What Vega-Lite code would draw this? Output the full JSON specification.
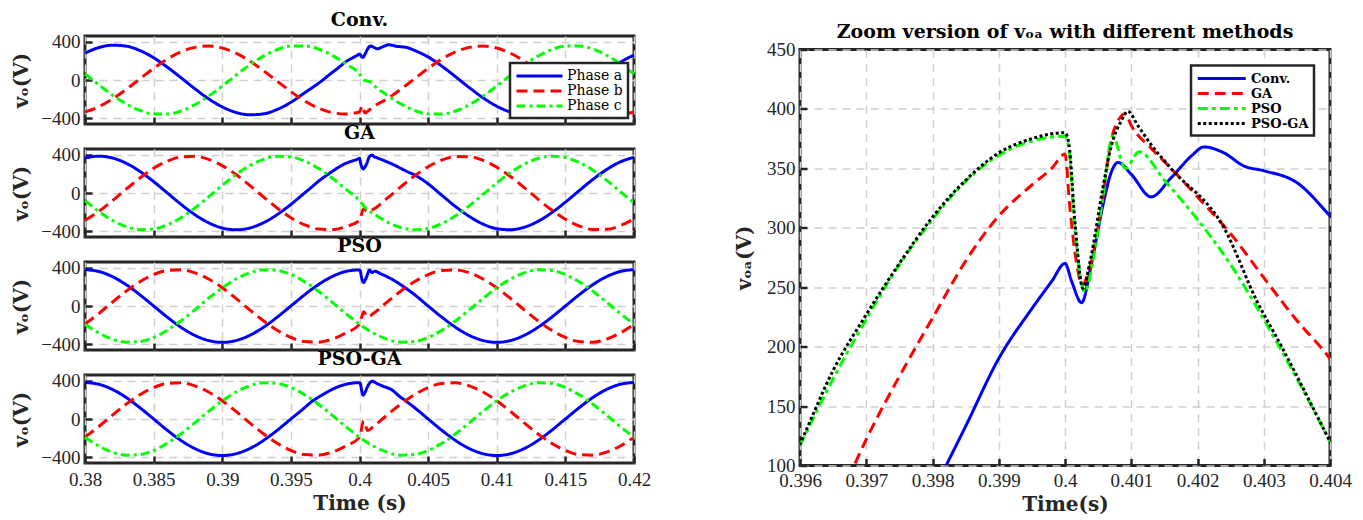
{
  "$schema": "https://vega.github.io/schema/vega-lite/v6.json",
  "padding": {"left": 10, "top": 9, "right": 10, "bottom": 2},
  "background": "white",
  "datasets": {
    "d": [
      {"m":"Conv.","p":"Phase a","t":0.38,"v":281},{"m":"Conv.","p":"Phase a","t":0.381,"v":339},{"m":"Conv.","p":"Phase a","t":0.382,"v":364},{"m":"Conv.","p":"Phase a","t":0.383,"v":354},{"m":"Conv.","p":"Phase a","t":0.384,"v":308},{"m":"Conv.","p":"Phase a","t":0.385,"v":233},{"m":"Conv.","p":"Phase a","t":0.386,"v":134},{"m":"Conv.","p":"Phase a","t":0.387,"v":23},{"m":"Conv.","p":"Phase a","t":0.388,"v":-91},{"m":"Conv.","p":"Phase a","t":0.389,"v":-196},{"m":"Conv.","p":"Phase a","t":0.39,"v":-281},{"m":"Conv.","p":"Phase a","t":0.391,"v":-339},{"m":"Conv.","p":"Phase a","t":0.392,"v":-364},{"m":"Conv.","p":"Phase a","t":0.393,"v":-354},{"m":"Conv.","p":"Phase a","t":0.394,"v":-308},{"m":"Conv.","p":"Phase a","t":0.395,"v":-233},{"m":"Conv.","p":"Phase a","t":0.396,"v":-134},{"m":"Conv.","p":"Phase a","t":0.397,"v":-35},{"m":"Conv.","p":"Phase a","t":0.398,"v":77},{"m":"Conv.","p":"Phase a","t":0.3985,"v":133},{"m":"Conv.","p":"Phase a","t":0.399,"v":190},{"m":"Conv.","p":"Phase a","t":0.3995,"v":232},{"m":"Conv.","p":"Phase a","t":0.3998,"v":255},{"m":"Conv.","p":"Phase a","t":0.4,"v":270},{"m":"Conv.","p":"Phase a","t":0.4001,"v":255},{"m":"Conv.","p":"Phase a","t":0.40025,"v":237},{"m":"Conv.","p":"Phase a","t":0.4004,"v":270},{"m":"Conv.","p":"Phase a","t":0.4006,"v":326},{"m":"Conv.","p":"Phase a","t":0.4007,"v":347},{"m":"Conv.","p":"Phase a","t":0.4008,"v":355},{"m":"Conv.","p":"Phase a","t":0.401,"v":345},{"m":"Conv.","p":"Phase a","t":0.4013,"v":326},{"m":"Conv.","p":"Phase a","t":0.4016,"v":342},{"m":"Conv.","p":"Phase a","t":0.4019,"v":360},{"m":"Conv.","p":"Phase a","t":0.4021,"v":368},{"m":"Conv.","p":"Phase a","t":0.4024,"v":363},{"m":"Conv.","p":"Phase a","t":0.4027,"v":352},{"m":"Conv.","p":"Phase a","t":0.403,"v":348},{"m":"Conv.","p":"Phase a","t":0.4035,"v":338},{"m":"Conv.","p":"Phase a","t":0.404,"v":310},{"m":"Conv.","p":"Phase a","t":0.405,"v":241},{"m":"Conv.","p":"Phase a","t":0.406,"v":145},{"m":"Conv.","p":"Phase a","t":0.407,"v":34},{"m":"Conv.","p":"Phase a","t":0.408,"v":-80},{"m":"Conv.","p":"Phase a","t":0.409,"v":-186},{"m":"Conv.","p":"Phase a","t":0.41,"v":-274},{"m":"Conv.","p":"Phase a","t":0.411,"v":-335},{"m":"Conv.","p":"Phase a","t":0.412,"v":-363},{"m":"Conv.","p":"Phase a","t":0.413,"v":-356},{"m":"Conv.","p":"Phase a","t":0.414,"v":-314},{"m":"Conv.","p":"Phase a","t":0.415,"v":-241},{"m":"Conv.","p":"Phase a","t":0.416,"v":-145},{"m":"Conv.","p":"Phase a","t":0.417,"v":-34},{"m":"Conv.","p":"Phase a","t":0.418,"v":80},{"m":"Conv.","p":"Phase a","t":0.419,"v":186},{"m":"Conv.","p":"Phase a","t":0.42,"v":260},
      {"m":"Conv.","p":"Phase b","t":0.38,"v":-334},{"m":"Conv.","p":"Phase b","t":0.381,"v":-280},{"m":"Conv.","p":"Phase b","t":0.382,"v":-198},{"m":"Conv.","p":"Phase b","t":0.383,"v":-98},{"m":"Conv.","p":"Phase b","t":0.384,"v":12},{"m":"Conv.","p":"Phase b","t":0.385,"v":121},{"m":"Conv.","p":"Phase b","t":0.386,"v":219},{"m":"Conv.","p":"Phase b","t":0.387,"v":294},{"m":"Conv.","p":"Phase b","t":0.388,"v":341},{"m":"Conv.","p":"Phase b","t":0.389,"v":355},{"m":"Conv.","p":"Phase b","t":0.39,"v":334},{"m":"Conv.","p":"Phase b","t":0.391,"v":280},{"m":"Conv.","p":"Phase b","t":0.392,"v":198},{"m":"Conv.","p":"Phase b","t":0.393,"v":98},{"m":"Conv.","p":"Phase b","t":0.394,"v":-12},{"m":"Conv.","p":"Phase b","t":0.395,"v":-121},{"m":"Conv.","p":"Phase b","t":0.396,"v":-219},{"m":"Conv.","p":"Phase b","t":0.397,"v":-294},{"m":"Conv.","p":"Phase b","t":0.398,"v":-341},{"m":"Conv.","p":"Phase b","t":0.399,"v":-355},{"m":"Conv.","p":"Phase b","t":0.4,"v":-334},{"m":"Conv.","p":"Phase b","t":0.4002,"v":-270},{"m":"Conv.","p":"Phase b","t":0.4004,"v":-345},{"m":"Conv.","p":"Phase b","t":0.4007,"v":-315},{"m":"Conv.","p":"Phase b","t":0.401,"v":-280},{"m":"Conv.","p":"Phase b","t":0.402,"v":-198},{"m":"Conv.","p":"Phase b","t":0.403,"v":-98},{"m":"Conv.","p":"Phase b","t":0.404,"v":12},{"m":"Conv.","p":"Phase b","t":0.405,"v":121},{"m":"Conv.","p":"Phase b","t":0.406,"v":219},{"m":"Conv.","p":"Phase b","t":0.407,"v":294},{"m":"Conv.","p":"Phase b","t":0.408,"v":341},{"m":"Conv.","p":"Phase b","t":0.409,"v":355},{"m":"Conv.","p":"Phase b","t":0.41,"v":334},{"m":"Conv.","p":"Phase b","t":0.411,"v":280},{"m":"Conv.","p":"Phase b","t":0.412,"v":198},{"m":"Conv.","p":"Phase b","t":0.413,"v":98},{"m":"Conv.","p":"Phase b","t":0.414,"v":-12},{"m":"Conv.","p":"Phase b","t":0.415,"v":-121},{"m":"Conv.","p":"Phase b","t":0.416,"v":-219},{"m":"Conv.","p":"Phase b","t":0.417,"v":-294},{"m":"Conv.","p":"Phase b","t":0.418,"v":-341},{"m":"Conv.","p":"Phase b","t":0.419,"v":-355},{"m":"Conv.","p":"Phase b","t":0.42,"v":-334},
      {"m":"Conv.","p":"Phase c","t":0.38,"v":63},{"m":"Conv.","p":"Phase c","t":0.381,"v":-50},{"m":"Conv.","p":"Phase c","t":0.382,"v":-158},{"m":"Conv.","p":"Phase c","t":0.383,"v":-250},{"m":"Conv.","p":"Phase c","t":0.384,"v":-318},{"m":"Conv.","p":"Phase c","t":0.385,"v":-355},{"m":"Conv.","p":"Phase c","t":0.386,"v":-356},{"m":"Conv.","p":"Phase c","t":0.387,"v":-324},{"m":"Conv.","p":"Phase c","t":0.388,"v":-259},{"m":"Conv.","p":"Phase c","t":0.389,"v":-169},{"m":"Conv.","p":"Phase c","t":0.39,"v":-63},{"m":"Conv.","p":"Phase c","t":0.391,"v":50},{"m":"Conv.","p":"Phase c","t":0.392,"v":158},{"m":"Conv.","p":"Phase c","t":0.393,"v":250},{"m":"Conv.","p":"Phase c","t":0.394,"v":318},{"m":"Conv.","p":"Phase c","t":0.395,"v":355},{"m":"Conv.","p":"Phase c","t":0.396,"v":356},{"m":"Conv.","p":"Phase c","t":0.397,"v":324},{"m":"Conv.","p":"Phase c","t":0.398,"v":259},{"m":"Conv.","p":"Phase c","t":0.399,"v":169},{"m":"Conv.","p":"Phase c","t":0.4,"v":63},{"m":"Conv.","p":"Phase c","t":0.4003,"v":0},{"m":"Conv.","p":"Phase c","t":0.4006,"v":-12},{"m":"Conv.","p":"Phase c","t":0.4008,"v":-22},{"m":"Conv.","p":"Phase c","t":0.401,"v":-50},{"m":"Conv.","p":"Phase c","t":0.402,"v":-158},{"m":"Conv.","p":"Phase c","t":0.403,"v":-250},{"m":"Conv.","p":"Phase c","t":0.404,"v":-318},{"m":"Conv.","p":"Phase c","t":0.405,"v":-355},{"m":"Conv.","p":"Phase c","t":0.406,"v":-356},{"m":"Conv.","p":"Phase c","t":0.407,"v":-324},{"m":"Conv.","p":"Phase c","t":0.408,"v":-259},{"m":"Conv.","p":"Phase c","t":0.409,"v":-169},{"m":"Conv.","p":"Phase c","t":0.41,"v":-63},{"m":"Conv.","p":"Phase c","t":0.411,"v":50},{"m":"Conv.","p":"Phase c","t":0.412,"v":158},{"m":"Conv.","p":"Phase c","t":0.413,"v":250},{"m":"Conv.","p":"Phase c","t":0.414,"v":318},{"m":"Conv.","p":"Phase c","t":0.415,"v":355},{"m":"Conv.","p":"Phase c","t":0.416,"v":356},{"m":"Conv.","p":"Phase c","t":0.417,"v":324},{"m":"Conv.","p":"Phase c","t":0.418,"v":259},{"m":"Conv.","p":"Phase c","t":0.419,"v":169},{"m":"Conv.","p":"Phase c","t":0.42,"v":63},
      {"m":"GA","p":"Phase a","t":0.38,"v":366},{"m":"GA","p":"Phase a","t":0.381,"v":385},{"m":"GA","p":"Phase a","t":0.382,"v":366},{"m":"GA","p":"Phase a","t":0.383,"v":311},{"m":"GA","p":"Phase a","t":0.384,"v":226},{"m":"GA","p":"Phase a","t":0.385,"v":119},{"m":"GA","p":"Phase a","t":0.386,"v":0},{"m":"GA","p":"Phase a","t":0.387,"v":-119},{"m":"GA","p":"Phase a","t":0.388,"v":-226},{"m":"GA","p":"Phase a","t":0.389,"v":-311},{"m":"GA","p":"Phase a","t":0.39,"v":-366},{"m":"GA","p":"Phase a","t":0.391,"v":-385},{"m":"GA","p":"Phase a","t":0.392,"v":-366},{"m":"GA","p":"Phase a","t":0.393,"v":-311},{"m":"GA","p":"Phase a","t":0.394,"v":-226},{"m":"GA","p":"Phase a","t":0.395,"v":-119},{"m":"GA","p":"Phase a","t":0.396,"v":0},{"m":"GA","p":"Phase a","t":0.3965,"v":60},{"m":"GA","p":"Phase a","t":0.397,"v":122},{"m":"GA","p":"Phase a","t":0.3975,"v":175},{"m":"GA","p":"Phase a","t":0.398,"v":224},{"m":"GA","p":"Phase a","t":0.3985,"v":272},{"m":"GA","p":"Phase a","t":0.399,"v":310},{"m":"GA","p":"Phase a","t":0.3995,"v":336},{"m":"GA","p":"Phase a","t":0.3998,"v":350},{"m":"GA","p":"Phase a","t":0.4,"v":362},{"m":"GA","p":"Phase a","t":0.40007,"v":319},{"m":"GA","p":"Phase a","t":0.40017,"v":272},{"m":"GA","p":"Phase a","t":0.40026,"v":252},{"m":"GA","p":"Phase a","t":0.40038,"v":268},{"m":"GA","p":"Phase a","t":0.40057,"v":325},{"m":"GA","p":"Phase a","t":0.40069,"v":372},{"m":"GA","p":"Phase a","t":0.4008,"v":390},{"m":"GA","p":"Phase a","t":0.40091,"v":396},{"m":"GA","p":"Phase a","t":0.401,"v":386},{"m":"GA","p":"Phase a","t":0.4013,"v":367},{"m":"GA","p":"Phase a","t":0.4016,"v":350},{"m":"GA","p":"Phase a","t":0.402,"v":326},{"m":"GA","p":"Phase a","t":0.4025,"v":295},{"m":"GA","p":"Phase a","t":0.403,"v":258},{"m":"GA","p":"Phase a","t":0.4035,"v":222},{"m":"GA","p":"Phase a","t":0.404,"v":190},{"m":"GA","p":"Phase a","t":0.405,"v":96},{"m":"GA","p":"Phase a","t":0.406,"v":-24},{"m":"GA","p":"Phase a","t":0.407,"v":-142},{"m":"GA","p":"Phase a","t":0.408,"v":-245},{"m":"GA","p":"Phase a","t":0.409,"v":-325},{"m":"GA","p":"Phase a","t":0.41,"v":-373},{"m":"GA","p":"Phase a","t":0.411,"v":-384},{"m":"GA","p":"Phase a","t":0.412,"v":-358},{"m":"GA","p":"Phase a","t":0.413,"v":-297},{"m":"GA","p":"Phase a","t":0.414,"v":-206},{"m":"GA","p":"Phase a","t":0.415,"v":-96},{"m":"GA","p":"Phase a","t":0.416,"v":24},{"m":"GA","p":"Phase a","t":0.417,"v":142},{"m":"GA","p":"Phase a","t":0.418,"v":245},{"m":"GA","p":"Phase a","t":0.419,"v":325},{"m":"GA","p":"Phase a","t":0.42,"v":373},
      {"m":"GA","p":"Phase b","t":0.38,"v":-286},{"m":"GA","p":"Phase b","t":0.381,"v":-193},{"m":"GA","p":"Phase b","t":0.382,"v":-80},{"m":"GA","p":"Phase b","t":0.383,"v":40},{"m":"GA","p":"Phase b","t":0.384,"v":157},{"m":"GA","p":"Phase b","t":0.385,"v":258},{"m":"GA","p":"Phase b","t":0.386,"v":333},{"m":"GA","p":"Phase b","t":0.387,"v":377},{"m":"GA","p":"Phase b","t":0.388,"v":383},{"m":"GA","p":"Phase b","t":0.389,"v":352},{"m":"GA","p":"Phase b","t":0.39,"v":286},{"m":"GA","p":"Phase b","t":0.391,"v":193},{"m":"GA","p":"Phase b","t":0.392,"v":80},{"m":"GA","p":"Phase b","t":0.393,"v":-40},{"m":"GA","p":"Phase b","t":0.394,"v":-157},{"m":"GA","p":"Phase b","t":0.395,"v":-258},{"m":"GA","p":"Phase b","t":0.396,"v":-333},{"m":"GA","p":"Phase b","t":0.397,"v":-377},{"m":"GA","p":"Phase b","t":0.398,"v":-383},{"m":"GA","p":"Phase b","t":0.399,"v":-352},{"m":"GA","p":"Phase b","t":0.4,"v":-286},{"m":"GA","p":"Phase b","t":0.4003,"v":-165},{"m":"GA","p":"Phase b","t":0.4006,"v":-195},{"m":"GA","p":"Phase b","t":0.401,"v":-172},{"m":"GA","p":"Phase b","t":0.402,"v":-57},{"m":"GA","p":"Phase b","t":0.403,"v":64},{"m":"GA","p":"Phase b","t":0.404,"v":178},{"m":"GA","p":"Phase b","t":0.405,"v":275},{"m":"GA","p":"Phase b","t":0.406,"v":345},{"m":"GA","p":"Phase b","t":0.407,"v":381},{"m":"GA","p":"Phase b","t":0.408,"v":380},{"m":"GA","p":"Phase b","t":0.409,"v":341},{"m":"GA","p":"Phase b","t":0.41,"v":270},{"m":"GA","p":"Phase b","t":0.411,"v":172},{"m":"GA","p":"Phase b","t":0.412,"v":57},{"m":"GA","p":"Phase b","t":0.413,"v":-64},{"m":"GA","p":"Phase b","t":0.414,"v":-178},{"m":"GA","p":"Phase b","t":0.415,"v":-275},{"m":"GA","p":"Phase b","t":0.416,"v":-345},{"m":"GA","p":"Phase b","t":0.417,"v":-381},{"m":"GA","p":"Phase b","t":0.418,"v":-380},{"m":"GA","p":"Phase b","t":0.419,"v":-341},{"m":"GA","p":"Phase b","t":0.42,"v":-270},
      {"m":"GA","p":"Phase c","t":0.38,"v":-80},{"m":"GA","p":"Phase c","t":0.381,"v":-193},{"m":"GA","p":"Phase c","t":0.382,"v":-286},{"m":"GA","p":"Phase c","t":0.383,"v":-352},{"m":"GA","p":"Phase c","t":0.384,"v":-383},{"m":"GA","p":"Phase c","t":0.385,"v":-377},{"m":"GA","p":"Phase c","t":0.386,"v":-333},{"m":"GA","p":"Phase c","t":0.387,"v":-258},{"m":"GA","p":"Phase c","t":0.388,"v":-157},{"m":"GA","p":"Phase c","t":0.389,"v":-40},{"m":"GA","p":"Phase c","t":0.39,"v":80},{"m":"GA","p":"Phase c","t":0.391,"v":193},{"m":"GA","p":"Phase c","t":0.392,"v":286},{"m":"GA","p":"Phase c","t":0.393,"v":352},{"m":"GA","p":"Phase c","t":0.394,"v":383},{"m":"GA","p":"Phase c","t":0.395,"v":377},{"m":"GA","p":"Phase c","t":0.396,"v":333},{"m":"GA","p":"Phase c","t":0.397,"v":258},{"m":"GA","p":"Phase c","t":0.398,"v":157},{"m":"GA","p":"Phase c","t":0.399,"v":40},{"m":"GA","p":"Phase c","t":0.4,"v":-80},{"m":"GA","p":"Phase c","t":0.4004,"v":-150},{"m":"GA","p":"Phase c","t":0.4007,"v":-190},{"m":"GA","p":"Phase c","t":0.401,"v":-214},{"m":"GA","p":"Phase c","t":0.402,"v":-302},{"m":"GA","p":"Phase c","t":0.403,"v":-361},{"m":"GA","p":"Phase c","t":0.404,"v":-385},{"m":"GA","p":"Phase c","t":0.405,"v":-371},{"m":"GA","p":"Phase c","t":0.406,"v":-320},{"m":"GA","p":"Phase c","t":0.407,"v":-239},{"m":"GA","p":"Phase c","t":0.408,"v":-134},{"m":"GA","p":"Phase c","t":0.409,"v":-15},{"m":"GA","p":"Phase c","t":0.41,"v":104},{"m":"GA","p":"Phase c","t":0.411,"v":214},{"m":"GA","p":"Phase c","t":0.412,"v":302},{"m":"GA","p":"Phase c","t":0.413,"v":361},{"m":"GA","p":"Phase c","t":0.414,"v":385},{"m":"GA","p":"Phase c","t":0.415,"v":371},{"m":"GA","p":"Phase c","t":0.416,"v":320},{"m":"GA","p":"Phase c","t":0.417,"v":239},{"m":"GA","p":"Phase c","t":0.418,"v":134},{"m":"GA","p":"Phase c","t":0.419,"v":15},{"m":"GA","p":"Phase c","t":0.42,"v":-104},
      {"m":"PSO","p":"Phase a","t":0.38,"v":380},{"m":"PSO","p":"Phase a","t":0.381,"v":361},{"m":"PSO","p":"Phase a","t":0.382,"v":307},{"m":"PSO","p":"Phase a","t":0.383,"v":223},{"m":"PSO","p":"Phase a","t":0.384,"v":117},{"m":"PSO","p":"Phase a","t":0.385,"v":0},{"m":"PSO","p":"Phase a","t":0.386,"v":-117},{"m":"PSO","p":"Phase a","t":0.387,"v":-223},{"m":"PSO","p":"Phase a","t":0.388,"v":-307},{"m":"PSO","p":"Phase a","t":0.389,"v":-361},{"m":"PSO","p":"Phase a","t":0.39,"v":-380},{"m":"PSO","p":"Phase a","t":0.391,"v":-361},{"m":"PSO","p":"Phase a","t":0.392,"v":-307},{"m":"PSO","p":"Phase a","t":0.393,"v":-223},{"m":"PSO","p":"Phase a","t":0.394,"v":-117},{"m":"PSO","p":"Phase a","t":0.395,"v":0},{"m":"PSO","p":"Phase a","t":0.396,"v":117},{"m":"PSO","p":"Phase a","t":0.3965,"v":173},{"m":"PSO","p":"Phase a","t":0.397,"v":223},{"m":"PSO","p":"Phase a","t":0.3975,"v":269},{"m":"PSO","p":"Phase a","t":0.398,"v":307},{"m":"PSO","p":"Phase a","t":0.3985,"v":339},{"m":"PSO","p":"Phase a","t":0.399,"v":361},{"m":"PSO","p":"Phase a","t":0.3995,"v":373},{"m":"PSO","p":"Phase a","t":0.4,"v":377},{"m":"PSO","p":"Phase a","t":0.40006,"v":366},{"m":"PSO","p":"Phase a","t":0.40014,"v":305},{"m":"PSO","p":"Phase a","t":0.4003,"v":246},{"m":"PSO","p":"Phase a","t":0.40043,"v":275},{"m":"PSO","p":"Phase a","t":0.40057,"v":325},{"m":"PSO","p":"Phase a","t":0.40072,"v":377},{"m":"PSO","p":"Phase a","t":0.40091,"v":350},{"m":"PSO","p":"Phase a","t":0.40112,"v":364},{"m":"PSO","p":"Phase a","t":0.4015,"v":340},{"m":"PSO","p":"Phase a","t":0.402,"v":307},{"m":"PSO","p":"Phase a","t":0.4025,"v":269},{"m":"PSO","p":"Phase a","t":0.403,"v":223},{"m":"PSO","p":"Phase a","t":0.4035,"v":173},{"m":"PSO","p":"Phase a","t":0.404,"v":120},{"m":"PSO","p":"Phase a","t":0.405,"v":0},{"m":"PSO","p":"Phase a","t":0.406,"v":-117},{"m":"PSO","p":"Phase a","t":0.407,"v":-223},{"m":"PSO","p":"Phase a","t":0.408,"v":-307},{"m":"PSO","p":"Phase a","t":0.409,"v":-361},{"m":"PSO","p":"Phase a","t":0.41,"v":-380},{"m":"PSO","p":"Phase a","t":0.411,"v":-361},{"m":"PSO","p":"Phase a","t":0.412,"v":-307},{"m":"PSO","p":"Phase a","t":0.413,"v":-223},{"m":"PSO","p":"Phase a","t":0.414,"v":-117},{"m":"PSO","p":"Phase a","t":0.415,"v":0},{"m":"PSO","p":"Phase a","t":0.416,"v":117},{"m":"PSO","p":"Phase a","t":0.417,"v":223},{"m":"PSO","p":"Phase a","t":0.418,"v":307},{"m":"PSO","p":"Phase a","t":0.419,"v":361},{"m":"PSO","p":"Phase a","t":0.42,"v":380},
      {"m":"PSO","p":"Phase b","t":0.38,"v":-190},{"m":"PSO","p":"Phase b","t":0.381,"v":-79},{"m":"PSO","p":"Phase b","t":0.382,"v":40},{"m":"PSO","p":"Phase b","t":0.383,"v":155},{"m":"PSO","p":"Phase b","t":0.384,"v":254},{"m":"PSO","p":"Phase b","t":0.385,"v":329},{"m":"PSO","p":"Phase b","t":0.386,"v":372},{"m":"PSO","p":"Phase b","t":0.387,"v":378},{"m":"PSO","p":"Phase b","t":0.388,"v":347},{"m":"PSO","p":"Phase b","t":0.389,"v":282},{"m":"PSO","p":"Phase b","t":0.39,"v":190},{"m":"PSO","p":"Phase b","t":0.391,"v":79},{"m":"PSO","p":"Phase b","t":0.392,"v":-40},{"m":"PSO","p":"Phase b","t":0.393,"v":-155},{"m":"PSO","p":"Phase b","t":0.394,"v":-254},{"m":"PSO","p":"Phase b","t":0.395,"v":-329},{"m":"PSO","p":"Phase b","t":0.396,"v":-372},{"m":"PSO","p":"Phase b","t":0.397,"v":-378},{"m":"PSO","p":"Phase b","t":0.398,"v":-347},{"m":"PSO","p":"Phase b","t":0.399,"v":-282},{"m":"PSO","p":"Phase b","t":0.4,"v":-190},{"m":"PSO","p":"Phase b","t":0.4003,"v":-60},{"m":"PSO","p":"Phase b","t":0.4006,"v":-115},{"m":"PSO","p":"Phase b","t":0.401,"v":-79},{"m":"PSO","p":"Phase b","t":0.402,"v":40},{"m":"PSO","p":"Phase b","t":0.403,"v":155},{"m":"PSO","p":"Phase b","t":0.404,"v":254},{"m":"PSO","p":"Phase b","t":0.405,"v":329},{"m":"PSO","p":"Phase b","t":0.406,"v":372},{"m":"PSO","p":"Phase b","t":0.407,"v":378},{"m":"PSO","p":"Phase b","t":0.408,"v":347},{"m":"PSO","p":"Phase b","t":0.409,"v":282},{"m":"PSO","p":"Phase b","t":0.41,"v":190},{"m":"PSO","p":"Phase b","t":0.411,"v":79},{"m":"PSO","p":"Phase b","t":0.412,"v":-40},{"m":"PSO","p":"Phase b","t":0.413,"v":-155},{"m":"PSO","p":"Phase b","t":0.414,"v":-254},{"m":"PSO","p":"Phase b","t":0.415,"v":-329},{"m":"PSO","p":"Phase b","t":0.416,"v":-372},{"m":"PSO","p":"Phase b","t":0.417,"v":-378},{"m":"PSO","p":"Phase b","t":0.418,"v":-347},{"m":"PSO","p":"Phase b","t":0.419,"v":-282},{"m":"PSO","p":"Phase b","t":0.42,"v":-190},
      {"m":"PSO","p":"Phase c","t":0.38,"v":-190},{"m":"PSO","p":"Phase c","t":0.381,"v":-282},{"m":"PSO","p":"Phase c","t":0.382,"v":-347},{"m":"PSO","p":"Phase c","t":0.383,"v":-378},{"m":"PSO","p":"Phase c","t":0.384,"v":-372},{"m":"PSO","p":"Phase c","t":0.385,"v":-329},{"m":"PSO","p":"Phase c","t":0.386,"v":-254},{"m":"PSO","p":"Phase c","t":0.387,"v":-155},{"m":"PSO","p":"Phase c","t":0.388,"v":-40},{"m":"PSO","p":"Phase c","t":0.389,"v":79},{"m":"PSO","p":"Phase c","t":0.39,"v":190},{"m":"PSO","p":"Phase c","t":0.391,"v":282},{"m":"PSO","p":"Phase c","t":0.392,"v":347},{"m":"PSO","p":"Phase c","t":0.393,"v":378},{"m":"PSO","p":"Phase c","t":0.394,"v":372},{"m":"PSO","p":"Phase c","t":0.395,"v":329},{"m":"PSO","p":"Phase c","t":0.396,"v":254},{"m":"PSO","p":"Phase c","t":0.397,"v":155},{"m":"PSO","p":"Phase c","t":0.398,"v":40},{"m":"PSO","p":"Phase c","t":0.399,"v":-79},{"m":"PSO","p":"Phase c","t":0.4,"v":-190},{"m":"PSO","p":"Phase c","t":0.401,"v":-282},{"m":"PSO","p":"Phase c","t":0.402,"v":-347},{"m":"PSO","p":"Phase c","t":0.403,"v":-378},{"m":"PSO","p":"Phase c","t":0.404,"v":-372},{"m":"PSO","p":"Phase c","t":0.405,"v":-329},{"m":"PSO","p":"Phase c","t":0.406,"v":-254},{"m":"PSO","p":"Phase c","t":0.407,"v":-155},{"m":"PSO","p":"Phase c","t":0.408,"v":-40},{"m":"PSO","p":"Phase c","t":0.409,"v":79},{"m":"PSO","p":"Phase c","t":0.41,"v":190},{"m":"PSO","p":"Phase c","t":0.411,"v":282},{"m":"PSO","p":"Phase c","t":0.412,"v":347},{"m":"PSO","p":"Phase c","t":0.413,"v":378},{"m":"PSO","p":"Phase c","t":0.414,"v":372},{"m":"PSO","p":"Phase c","t":0.415,"v":329},{"m":"PSO","p":"Phase c","t":0.416,"v":254},{"m":"PSO","p":"Phase c","t":0.417,"v":155},{"m":"PSO","p":"Phase c","t":0.418,"v":40},{"m":"PSO","p":"Phase c","t":0.419,"v":-79},{"m":"PSO","p":"Phase c","t":0.42,"v":-190},
      {"m":"PSO-GA","p":"Phase a","t":0.38,"v":382},{"m":"PSO-GA","p":"Phase a","t":0.381,"v":363},{"m":"PSO-GA","p":"Phase a","t":0.382,"v":309},{"m":"PSO-GA","p":"Phase a","t":0.383,"v":225},{"m":"PSO-GA","p":"Phase a","t":0.384,"v":118},{"m":"PSO-GA","p":"Phase a","t":0.385,"v":0},{"m":"PSO-GA","p":"Phase a","t":0.386,"v":-118},{"m":"PSO-GA","p":"Phase a","t":0.387,"v":-225},{"m":"PSO-GA","p":"Phase a","t":0.388,"v":-309},{"m":"PSO-GA","p":"Phase a","t":0.389,"v":-363},{"m":"PSO-GA","p":"Phase a","t":0.39,"v":-382},{"m":"PSO-GA","p":"Phase a","t":0.391,"v":-363},{"m":"PSO-GA","p":"Phase a","t":0.392,"v":-309},{"m":"PSO-GA","p":"Phase a","t":0.393,"v":-225},{"m":"PSO-GA","p":"Phase a","t":0.394,"v":-118},{"m":"PSO-GA","p":"Phase a","t":0.395,"v":0},{"m":"PSO-GA","p":"Phase a","t":0.396,"v":118},{"m":"PSO-GA","p":"Phase a","t":0.3965,"v":180},{"m":"PSO-GA","p":"Phase a","t":0.397,"v":227},{"m":"PSO-GA","p":"Phase a","t":0.3975,"v":270},{"m":"PSO-GA","p":"Phase a","t":0.398,"v":309},{"m":"PSO-GA","p":"Phase a","t":0.3985,"v":340},{"m":"PSO-GA","p":"Phase a","t":0.399,"v":363},{"m":"PSO-GA","p":"Phase a","t":0.3995,"v":375},{"m":"PSO-GA","p":"Phase a","t":0.4,"v":380},{"m":"PSO-GA","p":"Phase a","t":0.40006,"v":370},{"m":"PSO-GA","p":"Phase a","t":0.40015,"v":305},{"m":"PSO-GA","p":"Phase a","t":0.40027,"v":249},{"m":"PSO-GA","p":"Phase a","t":0.40038,"v":272},{"m":"PSO-GA","p":"Phase a","t":0.40057,"v":333},{"m":"PSO-GA","p":"Phase a","t":0.40069,"v":367},{"m":"PSO-GA","p":"Phase a","t":0.40085,"v":390},{"m":"PSO-GA","p":"Phase a","t":0.40095,"v":398},{"m":"PSO-GA","p":"Phase a","t":0.4011,"v":386},{"m":"PSO-GA","p":"Phase a","t":0.4013,"v":370},{"m":"PSO-GA","p":"Phase a","t":0.4016,"v":350},{"m":"PSO-GA","p":"Phase a","t":0.4024,"v":300},{"m":"PSO-GA","p":"Phase a","t":0.4029,"v":238},{"m":"PSO-GA","p":"Phase a","t":0.40327,"v":200},{"m":"PSO-GA","p":"Phase a","t":0.40373,"v":150},{"m":"PSO-GA","p":"Phase a","t":0.404,"v":120},{"m":"PSO-GA","p":"Phase a","t":0.405,"v":0},{"m":"PSO-GA","p":"Phase a","t":0.406,"v":-118},{"m":"PSO-GA","p":"Phase a","t":0.407,"v":-225},{"m":"PSO-GA","p":"Phase a","t":0.408,"v":-309},{"m":"PSO-GA","p":"Phase a","t":0.409,"v":-363},{"m":"PSO-GA","p":"Phase a","t":0.41,"v":-382},{"m":"PSO-GA","p":"Phase a","t":0.411,"v":-363},{"m":"PSO-GA","p":"Phase a","t":0.412,"v":-309},{"m":"PSO-GA","p":"Phase a","t":0.413,"v":-225},{"m":"PSO-GA","p":"Phase a","t":0.414,"v":-118},{"m":"PSO-GA","p":"Phase a","t":0.415,"v":0},{"m":"PSO-GA","p":"Phase a","t":0.416,"v":118},{"m":"PSO-GA","p":"Phase a","t":0.417,"v":225},{"m":"PSO-GA","p":"Phase a","t":0.418,"v":309},{"m":"PSO-GA","p":"Phase a","t":0.419,"v":363},{"m":"PSO-GA","p":"Phase a","t":0.42,"v":382},
      {"m":"PSO-GA","p":"Phase b","t":0.38,"v":-190},{"m":"PSO-GA","p":"Phase b","t":0.381,"v":-79},{"m":"PSO-GA","p":"Phase b","t":0.382,"v":40},{"m":"PSO-GA","p":"Phase b","t":0.383,"v":155},{"m":"PSO-GA","p":"Phase b","t":0.384,"v":254},{"m":"PSO-GA","p":"Phase b","t":0.385,"v":329},{"m":"PSO-GA","p":"Phase b","t":0.386,"v":372},{"m":"PSO-GA","p":"Phase b","t":0.387,"v":378},{"m":"PSO-GA","p":"Phase b","t":0.388,"v":347},{"m":"PSO-GA","p":"Phase b","t":0.389,"v":282},{"m":"PSO-GA","p":"Phase b","t":0.39,"v":190},{"m":"PSO-GA","p":"Phase b","t":0.391,"v":79},{"m":"PSO-GA","p":"Phase b","t":0.392,"v":-40},{"m":"PSO-GA","p":"Phase b","t":0.393,"v":-155},{"m":"PSO-GA","p":"Phase b","t":0.394,"v":-254},{"m":"PSO-GA","p":"Phase b","t":0.395,"v":-329},{"m":"PSO-GA","p":"Phase b","t":0.396,"v":-372},{"m":"PSO-GA","p":"Phase b","t":0.397,"v":-378},{"m":"PSO-GA","p":"Phase b","t":0.398,"v":-347},{"m":"PSO-GA","p":"Phase b","t":0.399,"v":-282},{"m":"PSO-GA","p":"Phase b","t":0.4,"v":-190},{"m":"PSO-GA","p":"Phase b","t":0.4003,"v":-20},{"m":"PSO-GA","p":"Phase b","t":0.4006,"v":-120},{"m":"PSO-GA","p":"Phase b","t":0.401,"v":-79},{"m":"PSO-GA","p":"Phase b","t":0.402,"v":40},{"m":"PSO-GA","p":"Phase b","t":0.403,"v":155},{"m":"PSO-GA","p":"Phase b","t":0.404,"v":254},{"m":"PSO-GA","p":"Phase b","t":0.405,"v":329},{"m":"PSO-GA","p":"Phase b","t":0.406,"v":372},{"m":"PSO-GA","p":"Phase b","t":0.407,"v":378},{"m":"PSO-GA","p":"Phase b","t":0.408,"v":347},{"m":"PSO-GA","p":"Phase b","t":0.409,"v":282},{"m":"PSO-GA","p":"Phase b","t":0.41,"v":190},{"m":"PSO-GA","p":"Phase b","t":0.411,"v":79},{"m":"PSO-GA","p":"Phase b","t":0.412,"v":-40},{"m":"PSO-GA","p":"Phase b","t":0.413,"v":-155},{"m":"PSO-GA","p":"Phase b","t":0.414,"v":-254},{"m":"PSO-GA","p":"Phase b","t":0.415,"v":-329},{"m":"PSO-GA","p":"Phase b","t":0.416,"v":-372},{"m":"PSO-GA","p":"Phase b","t":0.417,"v":-378},{"m":"PSO-GA","p":"Phase b","t":0.418,"v":-347},{"m":"PSO-GA","p":"Phase b","t":0.419,"v":-282},{"m":"PSO-GA","p":"Phase b","t":0.42,"v":-190},
      {"m":"PSO-GA","p":"Phase c","t":0.38,"v":-190},{"m":"PSO-GA","p":"Phase c","t":0.381,"v":-282},{"m":"PSO-GA","p":"Phase c","t":0.382,"v":-347},{"m":"PSO-GA","p":"Phase c","t":0.383,"v":-378},{"m":"PSO-GA","p":"Phase c","t":0.384,"v":-372},{"m":"PSO-GA","p":"Phase c","t":0.385,"v":-329},{"m":"PSO-GA","p":"Phase c","t":0.386,"v":-254},{"m":"PSO-GA","p":"Phase c","t":0.387,"v":-155},{"m":"PSO-GA","p":"Phase c","t":0.388,"v":-40},{"m":"PSO-GA","p":"Phase c","t":0.389,"v":79},{"m":"PSO-GA","p":"Phase c","t":0.39,"v":190},{"m":"PSO-GA","p":"Phase c","t":0.391,"v":282},{"m":"PSO-GA","p":"Phase c","t":0.392,"v":347},{"m":"PSO-GA","p":"Phase c","t":0.393,"v":378},{"m":"PSO-GA","p":"Phase c","t":0.394,"v":372},{"m":"PSO-GA","p":"Phase c","t":0.395,"v":329},{"m":"PSO-GA","p":"Phase c","t":0.396,"v":254},{"m":"PSO-GA","p":"Phase c","t":0.397,"v":155},{"m":"PSO-GA","p":"Phase c","t":0.398,"v":40},{"m":"PSO-GA","p":"Phase c","t":0.399,"v":-79},{"m":"PSO-GA","p":"Phase c","t":0.4,"v":-190},{"m":"PSO-GA","p":"Phase c","t":0.401,"v":-282},{"m":"PSO-GA","p":"Phase c","t":0.402,"v":-347},{"m":"PSO-GA","p":"Phase c","t":0.403,"v":-378},{"m":"PSO-GA","p":"Phase c","t":0.404,"v":-372},{"m":"PSO-GA","p":"Phase c","t":0.405,"v":-329},{"m":"PSO-GA","p":"Phase c","t":0.406,"v":-254},{"m":"PSO-GA","p":"Phase c","t":0.407,"v":-155},{"m":"PSO-GA","p":"Phase c","t":0.408,"v":-40},{"m":"PSO-GA","p":"Phase c","t":0.409,"v":79},{"m":"PSO-GA","p":"Phase c","t":0.41,"v":190},{"m":"PSO-GA","p":"Phase c","t":0.411,"v":282},{"m":"PSO-GA","p":"Phase c","t":0.412,"v":347},{"m":"PSO-GA","p":"Phase c","t":0.413,"v":378},{"m":"PSO-GA","p":"Phase c","t":0.414,"v":372},{"m":"PSO-GA","p":"Phase c","t":0.415,"v":329},{"m":"PSO-GA","p":"Phase c","t":0.416,"v":254},{"m":"PSO-GA","p":"Phase c","t":0.417,"v":155},{"m":"PSO-GA","p":"Phase c","t":0.418,"v":40},{"m":"PSO-GA","p":"Phase c","t":0.419,"v":-79},{"m":"PSO-GA","p":"Phase c","t":0.42,"v":-190}
    ]
  },
  "data": {"name": "d"},
  "concat": [
    {
      "spacing": -8,
      "resolve": {"legend": {"color": "independent", "strokeDash": "independent"}},
      "vconcat": [
        {
          "width": 549, "height": 88,
          "title": {"text": "Conv.", "offset": 3},
          "transform": [{"filter": {"field": "m", "equal": "Conv."}}],
          "mark": {"type": "line", "strokeWidth": 3, "interpolate": "monotone"},
          "encoding": {
            "x": {"field": "t", "type": "quantitative", "scale": {"domain": [0.38, 0.42], "nice": false, "zero": false}, "axis": {"values": [0.38,0.385,0.39,0.395,0.4,0.405,0.41,0.415,0.42], "labels": false, "title": null}},
            "y": {"field": "v", "type": "quantitative", "scale": {"domain": [-460, 460], "nice": false}, "axis": {"values": [-400, 0, 400], "title": "vₒ(V)", "titlePadding": 9}},
            "color": {"field": "p", "type": "nominal", "scale": {"domain": ["Phase a","Phase b","Phase c"], "range": ["#0000ff","#ff0000","#00ff00"]}, "legend": {"orient": "bottom-right", "offset": 6, "title": null, "labelFontWeight": "normal", "labelFontSize": 14, "symbolType": "M-1,0H6.08", "symbolSize": 169, "labelOffset": 36}},
            "strokeDash": {"field": "p", "type": "nominal", "scale": {"domain": ["Phase a","Phase b","Phase c"], "range": [[1,0],[11,6],[9,4,3,4]]}, "legend": {"orient": "bottom-right", "offset": 6, "title": null, "labelFontWeight": "normal", "labelFontSize": 14, "symbolType": "M-1,0H6.08", "symbolSize": 169, "labelOffset": 36}}
          }
        },
        {
          "width": 549, "height": 88,
          "title": {"text": "GA", "offset": 3},
          "transform": [{"filter": {"field": "m", "equal": "GA"}}],
          "mark": {"type": "line", "strokeWidth": 3, "interpolate": "monotone"},
          "encoding": {
            "x": {"field": "t", "type": "quantitative", "scale": {"domain": [0.38, 0.42], "nice": false, "zero": false}, "axis": {"values": [0.38,0.385,0.39,0.395,0.4,0.405,0.41,0.415,0.42], "labels": false, "title": null}},
            "y": {"field": "v", "type": "quantitative", "scale": {"domain": [-460, 460], "nice": false}, "axis": {"values": [-400, 0, 400], "title": "vₒ(V)", "titlePadding": 9}},
            "color": {"field": "p", "type": "nominal", "scale": {"domain": ["Phase a","Phase b","Phase c"], "range": ["#0000ff","#ff0000","#00ff00"]}, "legend": null},
            "strokeDash": {"field": "p", "type": "nominal", "scale": {"domain": ["Phase a","Phase b","Phase c"], "range": [[1,0],[11,6],[9,4,3,4]]}, "legend": null}
          }
        },
        {
          "width": 549, "height": 88,
          "title": {"text": "PSO", "offset": 3},
          "transform": [{"filter": {"field": "m", "equal": "PSO"}}],
          "mark": {"type": "line", "strokeWidth": 3, "interpolate": "monotone"},
          "encoding": {
            "x": {"field": "t", "type": "quantitative", "scale": {"domain": [0.38, 0.42], "nice": false, "zero": false}, "axis": {"values": [0.38,0.385,0.39,0.395,0.4,0.405,0.41,0.415,0.42], "labels": false, "title": null}},
            "y": {"field": "v", "type": "quantitative", "scale": {"domain": [-460, 460], "nice": false}, "axis": {"values": [-400, 0, 400], "title": "vₒ(V)", "titlePadding": 9}},
            "color": {"field": "p", "type": "nominal", "scale": {"domain": ["Phase a","Phase b","Phase c"], "range": ["#0000ff","#ff0000","#00ff00"]}, "legend": null},
            "strokeDash": {"field": "p", "type": "nominal", "scale": {"domain": ["Phase a","Phase b","Phase c"], "range": [[1,0],[11,6],[9,4,3,4]]}, "legend": null}
          }
        },
        {
          "width": 549, "height": 88,
          "title": {"text": "PSO-GA", "offset": 3},
          "transform": [{"filter": {"field": "m", "equal": "PSO-GA"}}],
          "mark": {"type": "line", "strokeWidth": 3, "interpolate": "monotone"},
          "encoding": {
            "x": {"field": "t", "type": "quantitative", "scale": {"domain": [0.38, 0.42], "nice": false, "zero": false}, "axis": {"values": [0.38,0.385,0.39,0.395,0.4,0.405,0.41,0.415,0.42], "format": "~g", "title": "Time (s)", "labelPadding": 14}},
            "y": {"field": "v", "type": "quantitative", "scale": {"domain": [-460, 460], "nice": false}, "axis": {"values": [-400, 0, 400], "title": "vₒ(V)", "titlePadding": 9}},
            "color": {"field": "p", "type": "nominal", "scale": {"domain": ["Phase a","Phase b","Phase c"], "range": ["#0000ff","#ff0000","#00ff00"]}, "legend": null},
            "strokeDash": {"field": "p", "type": "nominal", "scale": {"domain": ["Phase a","Phase b","Phase c"], "range": [[1,0],[11,6],[9,4,3,4]]}, "legend": null}
          }
        }
      ]
    },
    {
      "spacing": -3.5,
      "resolve": {"legend": {"color": "independent", "strokeDash": "independent"}},
      "vconcat": [
        {
          "width": 530, "height": 1,
          "view": {"stroke": null},
          "data": {"values": []},
          "mark": "point",
          "encoding": {},
          "title": {"text": "Zoom version of vₒₐ with different methods", "offset": -6}
        },
        {
          "width": 530, "height": 416,
          "transform": [{"filter": {"field": "p", "equal": "Phase a"}}, {"filter": {"field": "t", "range": [0.395, 0.405]}}],
          "mark": {"type": "line", "strokeWidth": 3, "interpolate": "monotone", "clip": true},
          "encoding": {
            "x": {"field": "t", "type": "quantitative", "scale": {"domain": [0.396, 0.404], "nice": false, "zero": false}, "axis": {"values": [0.396,0.397,0.398,0.399,0.4,0.401,0.402,0.403,0.404], "format": "~g", "title": "Time(s)", "labelPadding": 13}},
            "y": {"field": "v", "type": "quantitative", "scale": {"domain": [100, 450], "nice": false, "zero": false}, "axis": {"values": [100,150,200,250,300,350,400,450], "title": "vₒₐ(V)", "titlePadding": 12}},
            "color": {"field": "m", "type": "nominal", "scale": {"domain": ["Conv.","GA","PSO","PSO-GA"], "range": ["#0000ff","#ff0000","#00ff00","#000000"]}, "legend": {"orient": "top-right", "offset": 16, "title": null, "labelFontWeight": "bold", "symbolType": "M-1,0H6.68", "symbolSize": 156, "labelOffset": 39}},
            "strokeDash": {"field": "m", "type": "nominal", "scale": {"domain": ["Conv.","GA","PSO","PSO-GA"], "range": [[1,0],[11,6],[10,4,4,4],[3,2.5]]}, "legend": {"orient": "top-right", "offset": 16, "title": null, "labelFontWeight": "bold", "symbolType": "M-1,0H6.68", "symbolSize": 156, "labelOffset": 39}}
          }
        }
      ]
    }
  ],
  "columns": 2,
  "align": "none",
  "spacing": 80,
  "resolve": {"scale": {"x": "independent", "y": "independent", "color": "independent", "strokeDash": "independent"}},
  "config": {
    "font": "Liberation Serif",
    "view": {"stroke": "#262626", "strokeWidth": 3},
    "axis": {"domain": false, "grid": true, "gridColor": "#d0d0d0", "gridWidth": 1.5, "gridDash": [8, 6], "tickColor": "#262626", "tickWidth": 2.5, "tickSize": -7, "labelPadding": 12, "labelFlush": false, "labelFont": "Liberation Serif", "labelFontSize": 19, "labelColor": "#262626", "titleFont": "DejaVu Serif", "titleFontSize": 20, "titleFontWeight": "bold", "titleColor": "#262626"},
    "title": {"font": "DejaVu Serif", "fontSize": 19, "fontWeight": "bold", "color": "#000000", "anchor": "middle"},
    "legend": {"fillColor": "white", "strokeColor": "#262626", "strokeWidth": 2.5, "padding": 5, "rowPadding": 0, "symbolStrokeWidth": 3, "labelFont": "DejaVu Serif", "labelFontSize": 13, "labelColor": "#000000"}
  }
}
